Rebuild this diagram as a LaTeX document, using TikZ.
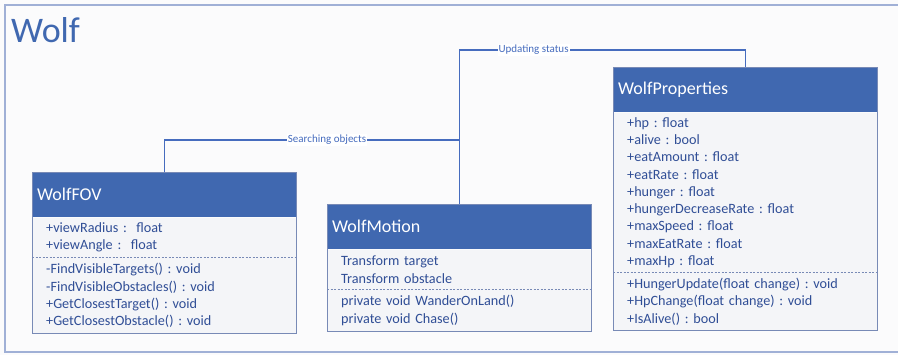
\documentclass[tikz,border=0pt]{standalone}
\usepackage{fontspec}
\setmainfont{Carlito}
\usetikzlibrary{positioning}
\frenchspacing

\definecolor{headblue}{RGB}{64,104,176}
\definecolor{edgeblue}{RGB}{120,138,182}
\definecolor{bodyfill}{RGB}{244,245,248}
\definecolor{textblue}{RGB}{48,78,150}
\definecolor{linkblue}{RGB}{70,108,190}
\definecolor{framecol}{RGB}{160,176,214}

\begin{document}
\begin{tikzpicture}[x=1pt,y=-1pt,
	head/.style={fill=headblue, text=white, anchor=north west, inner xsep=5pt, text width=254pt, minimum height=45pt, align=left, font=\fontsize{18}{20}\selectfont},
	part/.style={fill=bodyfill, text=textblue, inner xsep=14pt, inner ysep=0pt, text width=236pt, align=left, font=\fontsize{14.2}{17.3}\selectfont},
	outline/.style={draw=edgeblue, line width=0.9pt},
	sep/.style={draw=edgeblue, line width=0.9pt, dash pattern=on 2pt off 1.5pt},
	link/.style={draw=linkblue, line width=1.2pt},
	lbl/.style={fill=white, text=linkblue, inner sep=1pt, font=\fontsize{11}{12}\selectfont}]

\useasboundingbox (0,0) rectangle (898,355);
\fill [white!60!bodyfill] (0,0) rectangle (898,355);
\draw [framecol, line width=1.2pt] (5,5) rectangle (910,352);

\node [text=headblue, anchor=base west, inner sep=0pt, font=\fontsize{36}{40}\selectfont] (title) at (11,43) {Wolf};

%WolfFOV
\node [head] (fovhead) at (32,172) {WolfFOV};
\node [part, below=0pt of fovhead, minimum height=40pt] (fovattr) {+viewRadius :~~float\\+viewAngle :~~float};
\node [part, below=0pt of fovattr, minimum height=75pt] (fovmeth) {-FindVisibleTargets() : void\\-FindVisibleObstacles() : void\\+GetClosestTarget() : void\\+GetClosestObstacle() : void};
\draw [outline] (fovhead.north west) rectangle (fovmeth.south east);
\draw [sep] (fovattr.south west) -- (fovattr.south east);

%WolfMotion
\node [head] (motionhead) at (327,204) {WolfMotion};
\node [part, below=0pt of motionhead, minimum height=40pt] (motionattr) {Transform target\\Transform obstacle};
\node [part, below=0pt of motionattr, minimum height=41pt] (motionmeth) {private void WanderOnLand()\\private void Chase()};
\draw [outline] (motionhead.north west) rectangle (motionmeth.south east);
\draw [sep] (motionattr.south west) -- (motionattr.south east);

%WolfProperties
\node [head] (prophead) at (613,67) {WolfProperties};
\node [part, below=0pt of prophead, minimum height=160pt] (propattr) {+hp : float\\+alive : bool\\+eatAmount : float\\+eatRate : float\\+hunger : float\\+hungerDecreaseRate : float\\+maxSpeed : float\\+maxEatRate : float\\+maxHp : float};
\node [part, below=0pt of propattr, minimum height=57pt] (propmeth) {+HungerUpdate(float change) : void\\+HpChange(float change) : void\\+IsAlive() : bool};
\draw [outline] (prophead.north west) rectangle (propmeth.south east);
\draw [sep] (propattr.south west) -- (propattr.south east);

%links
\draw [link] (fovhead.north) -- ++(0,-32) -| node[lbl, pos=0.276]{Searching objects} (motionhead.north);
\draw [link] (motionhead.north) -- ++(0,-154) -| node[lbl, pos=0.13]{Updating status} (prophead.north);

\end{tikzpicture}
\end{document}
